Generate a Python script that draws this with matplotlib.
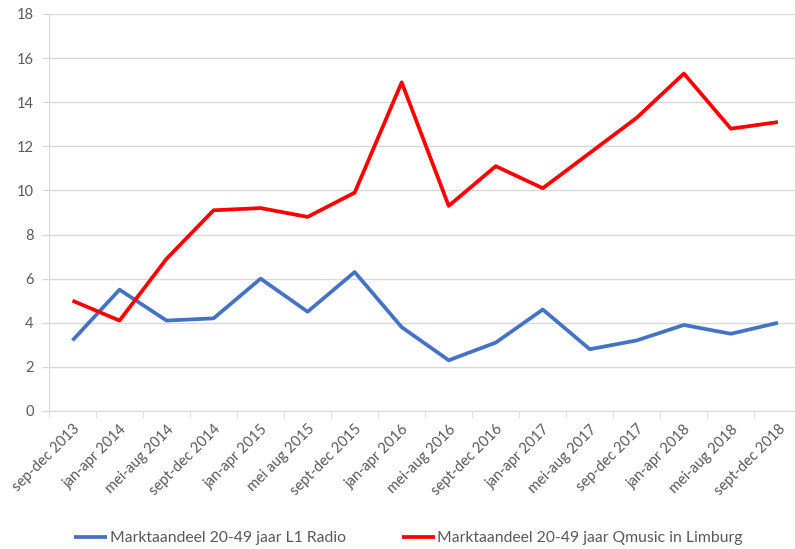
import numpy as np
import matplotlib.pyplot as plt

plt.rcParams['font.family'] = ['Lato', 'DejaVu Sans']

# periods on the x axis
periods = ['sep-dec 2013', 'jan-apr 2014', 'mei-aug 2014', 'sept-dec 2014',
           'jan-apr 2015', 'mei aug 2015', 'sept-dec 2015', 'jan-apr 2016',
           'mei-aug 2016', 'sept-dec 2016', 'jan-apr 2017', 'mei-aug 2017',
           'sep-dec 2017', 'jan-apr 2018', 'mei-aug 2018', 'sept-dec 2018']

# market share 20-49 year olds
l1_radio = [3.2, 5.5, 4.1, 4.2, 6.0, 4.5, 6.3, 3.8,
            2.3, 3.1, 4.6, 2.8, 3.2, 3.9, 3.5, 4.0]
qmusic = [5.0, 4.1, 6.9, 9.1, 9.2, 8.8, 9.9, 14.9,
          9.3, 11.1, 10.1, 11.7, 13.3, 15.3, 12.8, 13.1]

yticks = np.arange(0, 19, 2)

fig = plt.figure(figsize=(7.95, 5.49), dpi=100)
ax = fig.add_axes([0.0616, 0.2514, 0.9465, 0.7231])

x = np.arange(len(periods))
ax.plot(x, l1_radio, color='#4472C4', linewidth=2.7, solid_capstyle='butt',
        label='Marktaandeel 20-49 jaar L1 Radio')
ax.plot(x, qmusic, color='#FF0000', linewidth=2.7, solid_capstyle='butt',
        label='Marktaandeel 20-49 jaar Qmusic in Limburg')

ax.set_xlim(-0.5, len(periods) - 0.5)
ax.set_ylim(0, 18)
ax.set_yticks(yticks)
ax.set_xticks(x)
ax.set_xticklabels(periods, rotation=45, ha='right', rotation_mode='anchor')
ax.set_xticks(np.arange(-0.5, len(periods), 1), minor=True)

ax.grid(axis='y', color='#D9D9D9', linewidth=1)
ax.set_axisbelow(True)
for side in ['top', 'right']:
    ax.spines[side].set_visible(False)
ax.spines['left'].set_color('#D9D9D9')
ax.spines['bottom'].set_color('#D9D9D9')

ax.tick_params(axis='x', which='major', length=0, pad=8, labelsize=10.5,
               labelcolor='#595959')
ax.tick_params(axis='x', which='minor', length=5, color='#D9D9D9')
ax.tick_params(axis='y', length=5, color='#D9D9D9', labelsize=10.5,
               labelcolor='#595959', pad=6)

leg = fig.legend(loc='center', bbox_to_anchor=(0.514, 0.02), ncol=2,
                 frameon=False, fontsize=11.3, handlelength=2.1,
                 handletextpad=0.15, columnspacing=3.6)
for t in leg.get_texts():
    t.set_color('#595959')

fig.savefig('out.png', dpi=100)
